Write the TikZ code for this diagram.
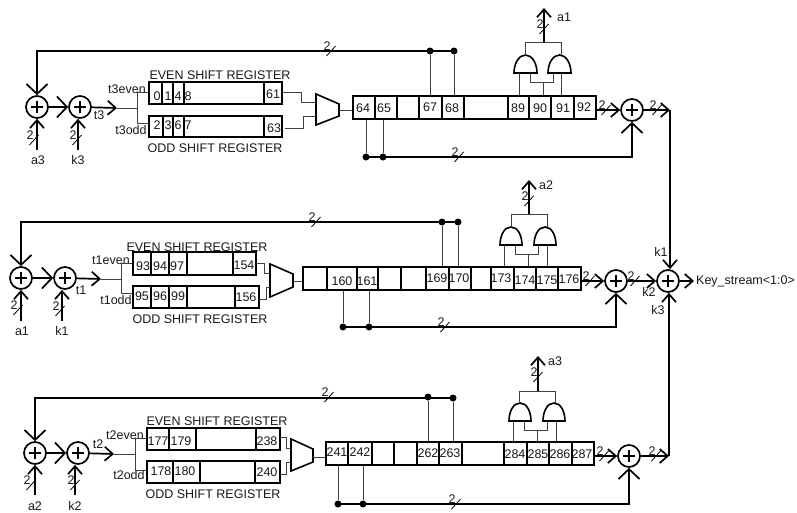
\documentclass[tikz,border=0pt]{standalone}
\usepackage{fontspec}
\setmainfont{Liberation Sans}
\usetikzlibrary{arrows.meta,calc}
\tikzset{
  busline/.style={line width=1.7pt,black},
  wire/.style={line width=0.9pt,black!75},
  bigtip/.style={-{Straight Barb[length=10pt,width=21pt,line width=1.7pt]}},
  smalltip/.style={-{Straight Barb[length=8pt,width=14pt,line width=1.7pt]}},
  xorgate/.style={circle,draw,line width=1.7pt,minimum size=22pt,inner sep=0pt,fill=white,
    path picture={\draw[line width=1.7pt] (path picture bounding box.center) +(-6,0) -- +(6,0) +(0,-6) -- +(0,6);}},
  cellbox/.style={rectangle,draw,line width=1.5pt,inner sep=0pt},
  lab/.style={inner sep=0pt,font=\fontsize{12.5}{12.5}\selectfont,text=black!90},
  junction/.style={circle,fill=black,inner sep=0pt,minimum size=7pt},
  gatepen/.style={line width=1.6pt},
  slashmark/.style={line width=0.8pt}
}
\newcommand{\cellrow}[3]{\foreach \n/\a/\b/\lx/\ly/\t in {#3}{
  \node[cellbox,minimum width={(\b-\a)*1pt},minimum height={(#2-#1)*1pt}] (\n) at ({(\a+\b)/2},{(#1+#2)/2}) {};
  \node[lab] (\n t) at (\lx,\ly) {\t};}}
\newcommand{\blankcells}[3]{\foreach \n/\a/\b in {#3}{
  \node[cellbox,minimum width={(\b-\a)*1pt},minimum height={(#2-#1)*1pt}] (\n) at ({(\a+\b)/2},{(#1+#2)/2}) {};}}
\newcommand{\busmark}[3]{\draw[slashmark] (#2-4.5,#3+5) -- (#2+4.5,#3-5);
  \node[lab] (#1) at (#2-4,#3-5) {2};}
\newcommand{\andshape}[4]{\draw[gatepen] (#1,#4) -- (#2,#4) .. controls (#2,#4-9) and ({(#1+#2)/2+7},#3) .. ({(#1+#2)/2},#3) .. controls ({(#1+#2)/2-7},#3) and (#1,#4-9) .. cycle;}
\begin{document}
\begin{tikzpicture}[x=1pt,y=-1pt]
\useasboundingbox (0,0) rectangle (797,512);
% ===== top row =====
\node[xorgate] (xa3) at (37,107) {};
\node[xorgate] (xk3) at (80,107) {};
\node[xorgate] (xo1) at (632,110) {};
\coordinate (ia3) at (37,150); \coordinate (ik3) at (78,150);
\node[lab] (la3) at (38,160) {a3};
\node[lab] (lk3) at (78,160) {k3};
\busmark{b1a}{34}{140}\busmark{b1k}{77}{140}
\draw[busline,smalltip] (ia3) -- (xa3);
\draw[busline,smalltip] (ik3) -- (ik3 |- xk3.south);
\draw[busline,bigtip] (xa3) -- (xk3);
\coordinate (t3end) at (117,108); \coordinate (t3j) at (138,108);
\draw[busline,smalltip] (xk3) -- (t3end);
\draw[wire] (t3end) -- (t3j);
\node[lab] (lt3) at (99,115) {t3};
\node[lab] (lt3e) at (127,89) {t3even};
\node[lab] (lt3o) at (131,130) {t3odd};
\cellrow{82}{104}{r1a/149/162/157/96/0,r1b/162/173/168/96/1,r1c/173/184/178/96/4,r1d/184/264/188/96/8,r1e/264/282/273/94/61}
\cellrow{116}{137}{r1f/149/163/157/125/2,r1g/163/173/168/125/3,r1h/173/184/178/125/6,r1i/184/264/188/125/7,r1j/264/282/274/128/63}
\node[lab] (e1) at (220,75) {EVEN SHIFT REGISTER};
\node[lab] (o1) at (215,148) {ODD SHIFT REGISTER};
\draw[wire] (r1a.west |- 0,92) -- ++(-11,0) |- (r1f.west |- 0,123);
\draw[gatepen] (316,94) -- (339,104) -- (339,116) -- (316,125) -- cycle;
\draw[wire] (282,92) -- (301,92) -- (301,102) -- (316,102);
\draw[wire] (285,128) -- (303,128) -- (303,116) -- (316,116);
\draw[wire] (339,110) -- (353,110);
\blankcells{96}{119}{m1c/397/419,m1f/464/508}
\cellrow{96}{119}{m1a/353/375/363/108/64,m1b/375/397/384/108/65,m1d/419/442/430/107/67,m1e/442/464/452/108/68,m1g/508/529/518/108/89,m1h/529/551/540/108/90,m1i/551/574/563/108/91,m1j/574/596/584/107/92}
\node[junction] (d1a) at (430,51) {};
\node[junction] (d1b) at (454,51) {};
\node[junction] (d1c) at (366,157) {};
\node[junction] (d1d) at (383,157) {};
\draw[wire] (d1a) -- (d1a |- m1d.north);
\draw[wire] (d1b) -- (d1b |- m1e.north);
\draw[wire] (d1c) -- (d1c |- m1a.south);
\draw[wire] (d1d) -- (d1d |- m1b.south);
\draw[busline,bigtip] (d1b.center) -| (xa3);
\draw[busline,bigtip] (d1c.center) -| (xo1);
\draw[busline,smalltip] (m1j.east |- xo1) -- (xo1);
\busmark{b1t}{331}{51}\busmark{b1b}{459}{157}\busmark{b1c}{606}{110}\busmark{b1d}{657}{110}
\andshape{514}{537}{55}{73}
\andshape{548}{571}{55}{73}
\draw[wire] (519,73) -- (519,73 |- m1g.north);
\draw[wire] (530,73) -- (530,82) -- (553,82) -- (553,73);
\draw[wire] (543,82) -- (543,82 |- m1h.north);
\draw[wire] (561,73) -- (561,73 |- m1i.north);
\draw[wire] (525,55) -- (525,42) -- (561,42) -- (561,55);
\coordinate (q1) at (544,42); \coordinate (oa1) at (544,8);
\draw[busline,smalltip] (q1) -- (oa1);
\busmark{b1q}{544}{29}
\node[lab] (loa1) at (564,17) {a1};
% ===== middle row =====
\node[xorgate] (xa1) at (21,278) {};
\node[xorgate] (xk1) at (65,278) {};
\node[xorgate] (xo2) at (616,281) {};
\node[xorgate] (xks) at (668,281) {};
\coordinate (ia1) at (21,321); \coordinate (ik1) at (62,321);
\node[lab] (la1) at (22,331) {a1};
\node[lab] (lk1) at (62,331) {k1};
\busmark{b2a}{18}{310}\busmark{b2k}{60}{311}
\draw[busline,smalltip] (ia1) -- (xa1);
\draw[busline,smalltip] (ik1) -- (ik1 |- xk1.south);
\draw[busline,bigtip] (xa1) -- (xk1);
\coordinate (t1end) at (101,279); \coordinate (t1j) at (122,279);
\draw[busline,smalltip] (xk1) -- (t1end);
\draw[wire] (t1end) -- (t1j);
\node[lab] (lt1) at (81,290) {t1};
\node[lab] (lt1e) at (111,260) {t1even};
\node[lab] (lt1o) at (116,300) {t1odd};
\blankcells{252}{275}{r2x/187/233}
\blankcells{286}{308}{r2y/187/235}
\cellrow{252}{275}{r2a/133/151/143/266/93,r2b/151/169/160/266/94,r2c/169/187/177/266/97,r2e/233/256/244/265/154}
\cellrow{286}{308}{r2f/133/151/142/296/95,r2g/151/169/160/296/96,r2h/169/187/178/296/99,r2j/235/259/246/297/156}
\node[lab] (e2) at (197,247) {EVEN SHIFT REGISTER};
\node[lab] (o2) at (200,319) {ODD SHIFT REGISTER};
\draw[wire] (r2a.west |- 0,263) -- ++(-11,0) |- (r2f.west |- 0,293);
\draw[gatepen] (270,264) -- (293,274) -- (293,287) -- (270,297) -- cycle;
\draw[wire] (256,263) -- (264,263) -- (264,273) -- (270,273);
\draw[wire] (259,299) -- (266,299) -- (266,287) -- (270,287);
\draw[wire] (293,281) -- (303,281);
\blankcells{267}{290}{m2a/303/327,m2d/378/401,m2e/401/426,m2h/471/491}
\cellrow{267}{290}{m2b/327/357/342/281/160,m2c/357/378/367/281/161,m2f/426/449/437/278/169,m2g/449/471/459/278/170,m2i/491/514/501/278/173,m2j/514/536/525/280/174,m2k/536/558/547/280/175,m2l/558/581/569/279/176}
\node[junction] (d2a) at (442,222) {};
\node[junction] (d2b) at (458,222) {};
\node[junction] (d2c) at (343,327) {};
\node[junction] (d2d) at (369,327) {};
\draw[wire] (d2a) -- (d2a |- m2f.north);
\draw[wire] (d2b) -- (d2b |- m2g.north);
\draw[wire] (d2c) -- (d2c |- m2b.south);
\draw[wire] (d2d) -- (d2d |- m2c.south);
\draw[busline,bigtip] (d2b.center) -| (xa1);
\draw[busline,bigtip] (d2c.center) -| (xo2);
\draw[busline,smalltip] (m2l.east |- xo2) -- (xo2);
\draw[busline,smalltip] (xo2) -- (xks);
\busmark{b2t}{316}{222}\busmark{b2b}{445}{327}\busmark{b2c}{590}{281}\busmark{b2d}{635}{281}
\andshape{500}{522}{227}{245}
\andshape{534}{556}{227}{245}
\draw[wire] (504,245) -- (504,245 |- m2i.north);
\draw[wire] (515,245) -- (515,254) -- (538,254) -- (538,245);
\draw[wire] (528,254) -- (528,254 |- m2j.north);
\draw[wire] (547,245) -- (547,245 |- m2k.north);
\draw[wire] (511,227) -- (511,214) -- (547,214) -- (547,227);
\coordinate (q2) at (529,214); \coordinate (oa2) at (529,180);
\draw[busline,smalltip] (q2) -- (oa2);
\busmark{b2q}{529}{201}
\node[lab] (loa2) at (546,185) {a2};
\coordinate (ksend) at (694,281);
\draw[busline,smalltip] (xks) -- (ksend);
\node[lab,anchor=west] (lks) at (696,281) {Key\_stream<1:0>};
\node[lab] (lk1b) at (661,252) {k1};
\node[lab] (lk2b) at (649,292) {k2};
\node[lab] (lk3b) at (658,310) {k3};
% ===== bottom row =====
\node[xorgate] (xa2) at (35,453) {};
\node[xorgate] (xk2) at (78,453) {};
\node[xorgate] (xo3) at (629,456) {};
\coordinate (ia2) at (35,495); \coordinate (ik2) at (75,495);
\node[lab] (la2) at (35,506) {a2};
\node[lab] (lk2) at (75,506) {k2};
\busmark{b3a}{31}{485}\busmark{b3k}{75}{485}
\draw[busline,smalltip] (ia2) -- (xa2);
\draw[busline,smalltip] (ik2) -- (ik2 |- xk2.south);
\draw[busline,bigtip] (xa2) -- (xk2);
\coordinate (t2end) at (114,454); \coordinate (t2j) at (135,454);
\draw[busline,smalltip] (xk2) -- (t2end);
\draw[wire] (t2end) -- (t2j);
\node[lab] (lt2) at (98,444) {t2};
\node[lab] (lt2e) at (125,435) {t2even};
\node[lab] (lt2o) at (129,475) {t2odd};
\blankcells{428}{450}{r3x/196/256}
\blankcells{461}{483}{r3y/200/255}
\cellrow{428}{450}{r3a/147/169/158/441/177,r3b/169/196/181/441/179,r3e/256/280/267/441/238}
\cellrow{461}{483}{r3f/147/173/161/471/178,r3g/173/200/185/471/180,r3j/255/280/267/472/240}
\node[lab] (e3) at (217,421) {EVEN SHIFT REGISTER};
\node[lab] (o3) at (213,494) {ODD SHIFT REGISTER};
\draw[wire] (r3a.west |- 0,438) -- ++(-11,0) |- (r3f.west |- 0,470);
\draw[gatepen] (291,439) -- (313,449) -- (313,462) -- (291,471) -- cycle;
\draw[wire] (280,437) -- (286,437) -- (286,448) -- (291,448);
\draw[wire] (280,474) -- (286,474) -- (286,462) -- (291,462);
\draw[wire] (313,457) -- (326,457);
\blankcells{442}{465}{m3c/372/394,m3d/394/417,m3g/462/504}
\cellrow{442}{465}{m3a/326/348/337/452/241,m3b/348/372/360/452/242,m3e/417/439/428/453/262,m3f/439/462/450/453/263,m3h/504/527/515/454/284,m3i/527/549/538/454/285,m3j/549/572/560/454/286,m3k/572/594/582/454/287}
\node[junction] (d3a) at (428,397) {};
\node[junction] (d3b) at (453,398) {};
\node[junction] (d3c) at (338,504) {};
\node[junction] (d3d) at (363,504) {};
\draw[wire] (d3a) -- (d3a |- m3e.north);
\draw[wire] (d3b) -- (d3b |- m3f.north);
\draw[wire] (d3c) -- (d3c |- m3a.south);
\draw[wire] (d3d) -- (d3d |- m3b.south);
\draw[busline,bigtip] (d3b.center) -| (xa2);
\draw[busline,bigtip] (d3c.center) -| (xo3);
\draw[busline,smalltip] (m3k.east |- xo3) -- (xo3);
\busmark{b3t}{329}{397}\busmark{b3b}{456}{504}\busmark{b3c}{604}{456}\busmark{b3d}{656}{456}
\andshape{509}{531}{403}{421}
\andshape{543}{565}{403}{421}
\draw[wire] (513,421) -- (513,421 |- m3h.north);
\draw[wire] (524,421) -- (524,430) -- (547,430) -- (547,421);
\draw[wire] (537,430) -- (537,430 |- m3i.north);
\draw[wire] (556,421) -- (556,421 |- m3j.north);
\draw[wire] (519,403) -- (519,391) -- (555,391) -- (555,403);
\coordinate (q3) at (538,391); \coordinate (oa3) at (538,356);
\draw[busline,smalltip] (q3) -- (oa3);
\busmark{b3q}{538}{377}
\node[lab] (loa3) at (555,361) {a3};
% ===== outputs into the key stream adder =====
\coordinate (c1) at (670,110);
\coordinate (c3) at (669,456);
\draw[busline,smalltip] (xo1) -- (c1);
\draw[busline,smalltip] (xo3) -- (c3);
\draw[busline,smalltip] (c1) -- (c1 |- xks.north);
\draw[busline,smalltip] (c3) -- (c3 |- xks.south);
\end{tikzpicture}
\end{document}
